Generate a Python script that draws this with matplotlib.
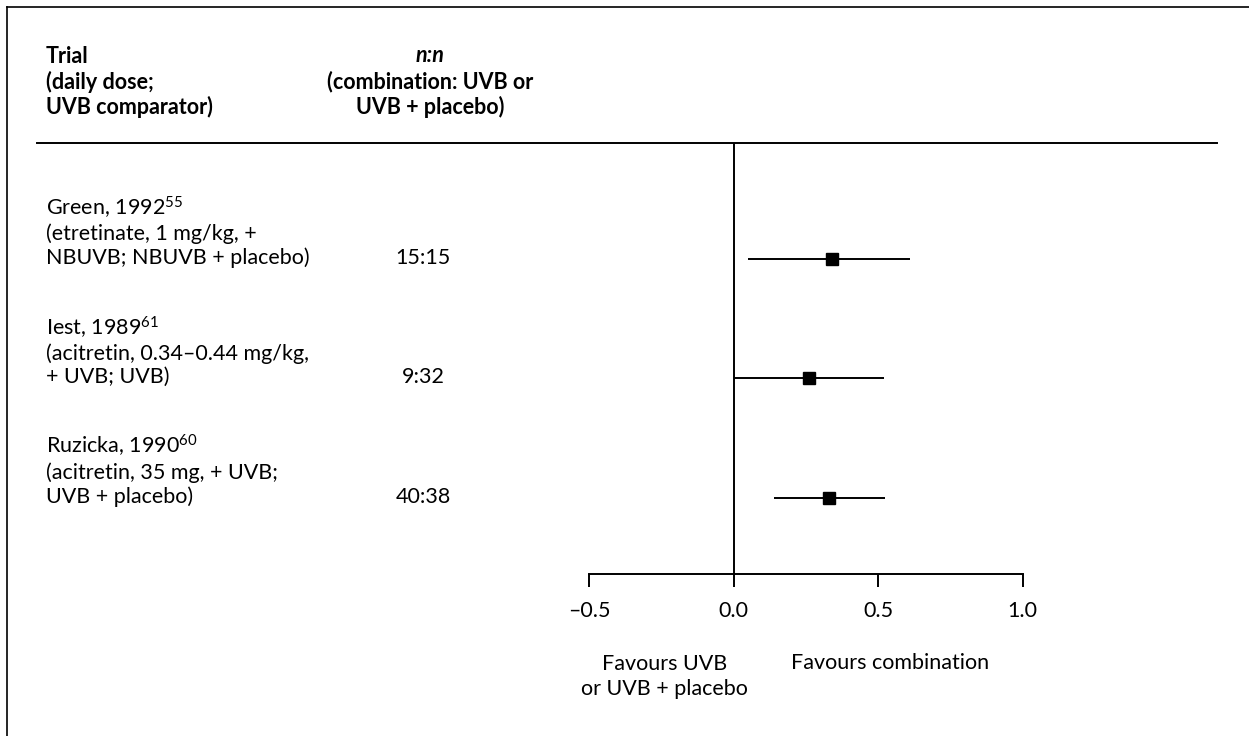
# Forest plot: retinoid + UVB combination vs UVB (or UVB + placebo)

import matplotlib
matplotlib.use("Agg")
import matplotlib.pyplot as plt
import matplotlib.transforms as mtransforms
from matplotlib.lines import Line2D

plt.rcParams['font.family'] = ['Lato', 'DejaVu Sans']
plt.rcParams['mathtext.fontset'] = 'custom'
plt.rcParams['mathtext.rm'] = 'Lato'
plt.rcParams['mathtext.it'] = 'Lato:italic'
plt.rcParams['mathtext.bf'] = 'Lato:bold'

# ==========================================
# DATA
# ==========================================

trial_labels = [
    "Green, 1992$^{55}$\n(etretinate, 1 mg/kg, +\nNBUVB; NBUVB + placebo)",
    "Iest, 1989$^{61}$\n(acitretin, 0.34–0.44 mg/kg,\n+ UVB; UVB)",
    "Ruzicka, 1990$^{60}$\n(acitretin, 35 mg, + UVB;\nUVB + placebo)",
]
n_labels = ["15:15", "9:32", "40:38"]
effect = [0.34, 0.26, 0.33]
ci_low = [0.05, 0.0, 0.14]
ci_high = [0.61, 0.52, 0.525]

tick_values = [-0.5, 0.0, 0.5, 1.0]
tick_labels = ["–0.5", "0.0", "0.5", "1.0"]

W, H = 1249, 736
FS = 15.5

# ==========================================
# FIGURE
# ==========================================

fig = plt.figure(figsize=(W / 100, H / 100), dpi=100)
ax = fig.add_axes([589.3 / W, 1 - 574.3 / H, (1022.7 - 589.3) / W, (574.3 - 143) / H])

rows = list(range(len(trial_labels)))

for i in rows:
    ax.plot([ci_low[i], ci_high[i]], [i, i], color='black', lw=1.4, solid_capstyle='butt')
    ax.plot(effect[i], i, marker='s', color='black', markersize=8.2, ls='none')

ax.axvline(0, color='black', lw=1.4)

ax.set_xlim(-0.5, 1.0)
ax.set_ylim(2.642, -0.972)

for s in ['top', 'right', 'left']:
    ax.spines[s].set_visible(False)
ax.spines['bottom'].set_linewidth(1.4)
ax.spines['bottom'].set_bounds(-0.5, 1.0)
ax.set_yticks([])
ax.set_xticks(tick_values)
ax.set_xticklabels(tick_labels, fontsize=FS)
ax.tick_params(axis='x', direction='out', length=9, width=1.4, pad=10)

# row texts (x in figure, y in data), last line on the row
trans = mtransforms.blended_transform_factory(fig.transFigure, ax.transData)
trans = mtransforms.offset_copy(trans, fig=fig, y=-5, units='dots')
for i in rows:
    ax.text(46 / W, i, trial_labels[i], transform=trans, fontsize=FS,
            ha='left', va='baseline', linespacing=1.19, clip_on=False)
    ax.text(423 / W, i, n_labels[i], transform=trans, fontsize=FS,
            ha='center', va='baseline', clip_on=False)

# header
fig.text(46 / W, 1 - 114 / H, "Trial\n(daily dose;\nUVB comparator)",
         fontsize=FS, fontweight='bold', ha='left', va='baseline', linespacing=1.19)
fig.text(430 / W, 1 - 62 / H, "n:n", fontsize=FS, fontweight='bold', fontstyle='italic',
         ha='center', va='baseline')
fig.text(430 / W, 1 - 114 / H, "(combination: UVB or\nUVB + placebo)",
         fontsize=FS, fontweight='bold', ha='center', va='baseline', linespacing=1.19,
         multialignment='center')

# favours labels (x in data, y in figure)
trans2 = mtransforms.blended_transform_factory(ax.transData, fig.transFigure)
ax.text(-0.24, 1 - 695 / H, "Favours UVB\nor UVB + placebo", transform=trans2,
        fontsize=FS, ha='center', va='baseline', linespacing=1.3,
        multialignment='center', clip_on=False)
ax.text(0.54, 1 - 669 / H, "Favours combination", transform=trans2,
        fontsize=FS, ha='center', va='baseline', clip_on=False)

# header rule and frame
fig.add_artist(Line2D([37 / W, 1217 / W], [1 - 143 / H, 1 - 143 / H],
                      color='black', lw=1.4, transform=fig.transFigure))
fig.add_artist(Line2D([7 / W, 7 / W], [0, 1 - 7 / H], color='black', lw=1.2,
                      transform=fig.transFigure))
fig.add_artist(Line2D([7 / W, 1], [1 - 7 / H, 1 - 7 / H], color='black', lw=1.2,
                      transform=fig.transFigure))

fig.savefig("out.png", dpi=100)
